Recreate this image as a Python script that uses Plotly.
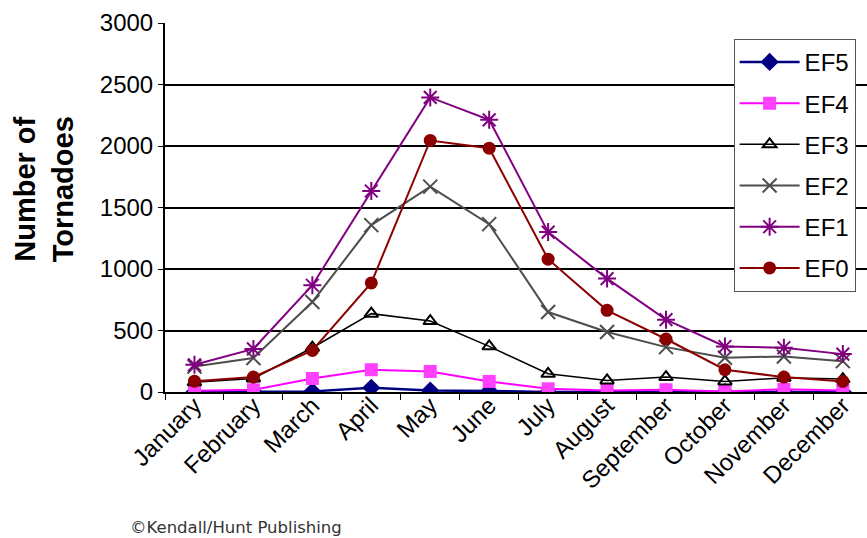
import plotly.graph_objects as go

months = ["January", "February", "March", "April", "May", "June", "July",
          "August", "September", "October", "November", "December"]

ef5 = [0, 2, 5, 34, 12, 8, 0, 0, 0, 0, 2, 0]
ef4 = [10, 18, 110, 181, 167, 86, 26, 12, 18, 5, 22, 12]
ef3 = [80, 110, 360, 637, 577, 371, 148, 94, 121, 86, 115, 105]
ef2 = [208, 276, 732, 1357, 1670, 1365, 650, 488, 365, 279, 289, 251]
ef1 = [221, 350, 868, 1634, 2395, 2213, 1300, 922, 588, 370, 360, 308]
ef0 = [88, 121, 338, 887, 2045, 1982, 1080, 664, 431, 181, 121, 86]

series = [
    ("EF5", ef5, "#000080", dict(symbol="diamond", size=14, color="#000080"), 2.5),
    ("EF4", ef4, "#FF00FF", dict(symbol="square", size=13, color="#FF40FF"), 2),
    ("EF3", ef3, "#000000", dict(symbol="triangle-up-open", size=12, color="#000000",
                                  line=dict(width=2, color="#000000")), 1.5),
    ("EF2", ef2, "#4D4D4D", dict(symbol="x-thin-open", size=14, color="#4D4D4D",
                                  line=dict(width=2, color="#4D4D4D")), 2),
    ("EF1", ef1, "#800080", dict(symbol="asterisk-open", size=15, color="#800080",
                                  line=dict(width=2, color="#800080")), 2),
    ("EF0", ef0, "#8B0000", dict(symbol="circle", size=13, color="#8B0000"), 2),
]

FONT = "Liberation Sans, Arial, sans-serif"

fig = go.Figure()
for name, vals, col, mk, lw in series:
    fig.add_trace(go.Scatter(
        x=months, y=vals, name=name, mode="lines+markers",
        line=dict(color=col, width=lw), marker=mk, legendgroup=name,
    ))

fig.update_layout(
    width=867, height=538,
    margin=dict(l=165, r=0, t=23, b=146),
    plot_bgcolor="white", paper_bgcolor="white",
    font=dict(family=FONT, color="black"),
    showlegend=True,
    legend=dict(
        x=0.81, y=0.957, xanchor="left", yanchor="top",
        bgcolor="white", bordercolor="#555555", borderwidth=1,
        font=dict(size=24, family=FONT), itemwidth=60,
        tracegroupgap=7,
    ),
)

fig.update_xaxes(
    type="category", range=[-0.5, 11.41],
    tickangle=-45, tickfont=dict(size=24, family=FONT),
    ticks="outside", tickson="boundaries", ticklen=6, tickcolor="black",
    ticklabelstandoff=-12,
    showline=True, linecolor="black", linewidth=2,
    showgrid=False, zeroline=False,
)

fig.update_yaxes(
    range=[0, 3000], dtick=500,
    tickfont=dict(size=24, family=FONT),
    ticks="outside", ticklen=5, tickcolor="black",
    showline=True, linecolor="black", linewidth=2,
    showgrid=True, gridcolor="black", gridwidth=2,
    zeroline=False,
)

fig.add_annotation(
    text="<b>Number of<br>Tornadoes</b>", xref="paper", yref="paper",
    x=-0.172, y=0.55, xanchor="center", yanchor="middle",
    textangle=-90, showarrow=False, font=dict(size=29, family=FONT),
)

fig.add_annotation(
    text="©Kendall/Hunt Publishing", xref="paper", yref="paper",
    x=-0.052, y=-0.368, xanchor="left", yanchor="middle",
    showarrow=False, font=dict(size=16.5, family="DejaVu Sans", color="#333333"),
)

fig.write_html("out.html")
